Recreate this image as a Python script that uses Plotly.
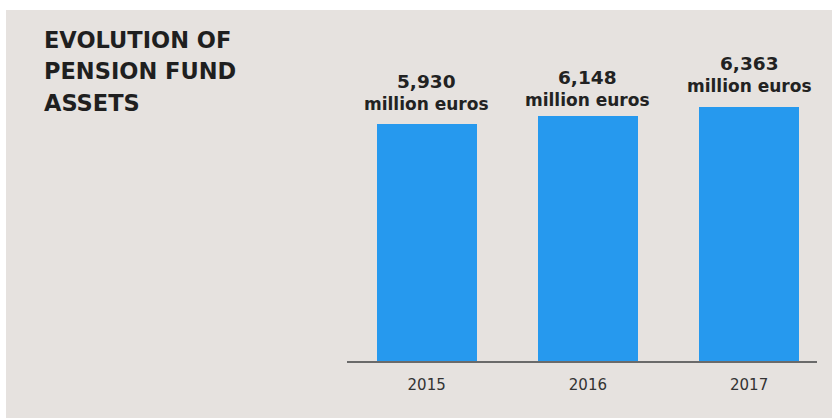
import plotly.graph_objects as go

years = ["2015", "2016", "2017"]
assets = [5930, 6148, 6363]
value_labels = ["5,930", "6,148", "6,363"]
unit = "million euros"
title_lines = ["EVOLUTION OF", "PENSION FUND", "ASSETS"]

W, H = 832, 418
ML, MR, MT, MB = 347, 15, 40, 57
PW, PH = W - ML - MR, H - MT - MB

def px_x(p):
    return (p - ML) / PW

def px_y(p):
    return (H - MB - p) / PH

BG = "#E6E2DF"
BAR = "#2699EE"

fig = go.Figure()
fig.add_trace(go.Bar(
    x=years, y=assets, width=0.62,
    marker=dict(color=BAR, line=dict(width=0)),
    hoverinfo="skip",
))

# gray panel (white strip on top/left)
fig.add_shape(type="rect", xref="paper", yref="paper",
              x0=px_x(6), x1=px_x(W + 2), y0=px_y(H + 2), y1=px_y(10),
              fillcolor=BG, line=dict(width=0), layer="below")

# title lines
for i, t in enumerate(title_lines):
    fig.add_annotation(xref="paper", yref="paper", x=px_x(42), y=px_y(39.5 + i * 31.7),
                       xanchor="left", yanchor="middle", showarrow=False,
                       text=f"<b>{t}</b>",
                       font=dict(family="DejaVu Sans", size=22.5, color="#1f1f1f"))

# value labels
shifts = [8, 4, 9]
for i, (v, lab, s) in enumerate(zip(assets, value_labels, shifts)):
    fig.add_annotation(x=i, y=v, xref="x", yref="y", yanchor="bottom", yshift=s,
                       showarrow=False,
                       text=f"<b><span style='font-size:18.5px'>{lab}</span></b><br><b>{unit}</b>",
                       font=dict(family="DejaVu Sans", size=17, color="#222222"))

fig.update_layout(
    width=W, height=H,
    margin=dict(l=ML, r=MR, t=MT, b=MB, pad=0),
    paper_bgcolor="white", plot_bgcolor="rgba(0,0,0,0)",
    showlegend=False, bargap=0,
    xaxis=dict(type="category", range=[-0.494, 2.421], showgrid=False, zeroline=False,
               showline=True, linecolor="#6a6a6a", linewidth=1.5, ticks="",
               tickfont=dict(family="DejaVu Sans", size=15, color="#333333"),
               ticklabelstandoff=9),
    yaxis=dict(range=[0, PH * 25.06], visible=False, showgrid=False, zeroline=False),
)

fig.write_html("out.html")
